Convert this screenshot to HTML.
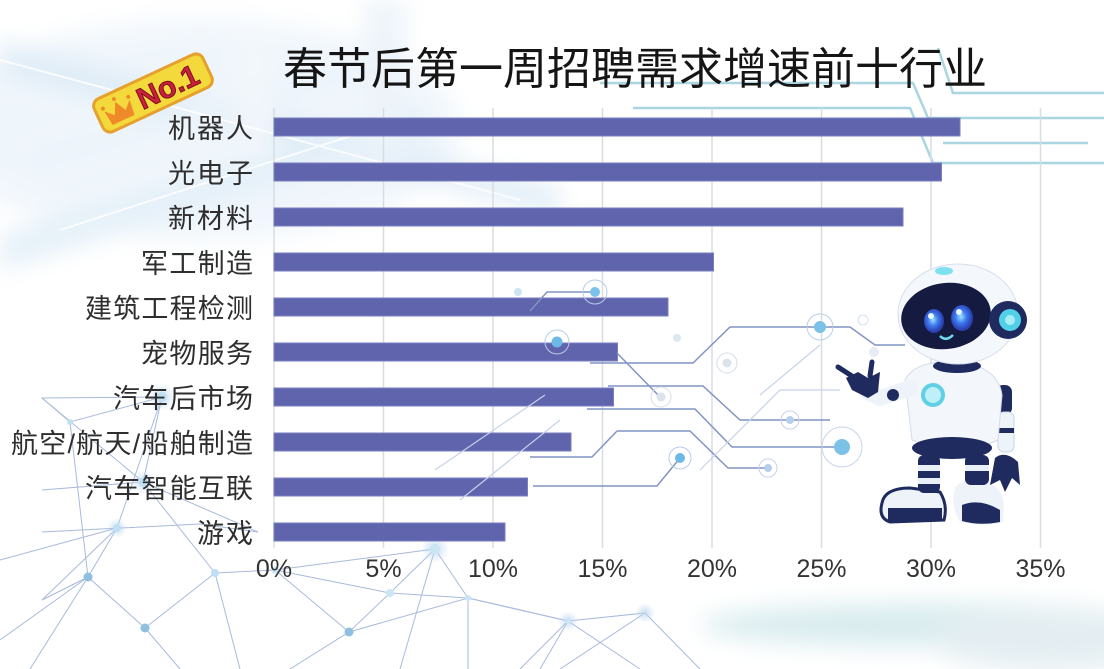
<!DOCTYPE html>
<html><head><meta charset="utf-8"><style>
html,body{margin:0;padding:0;background:#fff;}
svg{display:block;}
.lbl{font-family:"Liberation Sans","Noto Sans CJK SC",sans-serif;font-size:27px;fill:#2e2e2e;}
.ax{font-family:"Liberation Sans",sans-serif;font-size:25px;fill:#333;text-anchor:middle;}
</style></head><body>
<svg width="1104" height="669" viewBox="0 0 1104 669" xmlns="http://www.w3.org/2000/svg">
<defs>
<filter id="b12" x="-50%" y="-50%" width="200%" height="200%"><feGaussianBlur stdDeviation="12"/></filter>
<filter id="b5" x="-50%" y="-50%" width="200%" height="200%"><feGaussianBlur stdDeviation="5"/></filter>
<filter id="b2" x="-50%" y="-50%" width="200%" height="200%"><feGaussianBlur stdDeviation="2"/></filter>
<radialGradient id="glow"><stop offset="0" stop-color="#bcd6ee" stop-opacity=".8"/><stop offset="1" stop-color="#bcd6ee" stop-opacity="0"/></radialGradient>
<radialGradient id="eye" cx=".45" cy=".45"><stop offset="0" stop-color="#9fe2ff"/><stop offset=".5" stop-color="#3d7af0"/><stop offset="1" stop-color="#2a3fb0"/></radialGradient>
</defs>
<rect width="1104" height="669" fill="#fff"/>
<!-- upper-left haze -->
<g filter="url(#b12)" opacity=".65">
<ellipse cx="200" cy="130" rx="260" ry="110" fill="#e8f2fa"/>
<polygon points="0,40 560,190 560,215 0,75" fill="#cfe3f3"/>
<polygon points="0,235 420,110 430,135 0,270" fill="#d6e8f5"/>
<polygon points="20,150 350,60 360,80 30,175" fill="#e2eef8"/>
<rect x="365" y="0" width="40" height="160" fill="#e3eef7"/>
<rect x="240" y="40" width="30" height="110" fill="#edf3f9"/>
</g>
<g stroke="#fff" stroke-width="2" opacity=".8">
<line x1="0" y1="60" x2="520" y2="200"/>
<line x1="60" y1="230" x2="400" y2="120"/>
</g>
<!-- bottom-right haze -->
<g filter="url(#b12)">
<ellipse cx="930" cy="625" rx="230" ry="22" fill="#d9ecef"/>
<ellipse cx="1050" cy="640" rx="120" ry="30" fill="#e4eef2"/>
</g>
<!-- upper right cyan lines -->
<g stroke="#a9d6e0" stroke-width="2.5" fill="none">
<path d="M600 83 H913 L928 118 H1104"/>
<path d="M633 108 H910 L933 163 H1104"/>
<path d="M938 48 L953 93 H1104"/>
<path d="M943 143 H1088"/>
</g>
<!-- gridlines -->
<g stroke="#d8dde4" stroke-width="1.5">
<line x1="274" y1="108" x2="274" y2="548"/>
<line x1="383.5" y1="108" x2="383.5" y2="548"/>
<line x1="493" y1="108" x2="493" y2="548"/>
<line x1="602.5" y1="108" x2="602.5" y2="548"/>
<line x1="712" y1="108" x2="712" y2="548"/>
<line x1="821.5" y1="108" x2="821.5" y2="548"/>
<line x1="931" y1="108" x2="931" y2="548"/>
<line x1="1040.5" y1="108" x2="1040.5" y2="548"/>
</g>
<!-- lower-left network -->
<g stroke="#a8badb" stroke-width="1" fill="none">
<path d="M42 398 L162 397 L70 422 Z"/>
<path d="M42 398 L143 482"/>
<path d="M162 397 L143 482 L42 490"/>
<path d="M162 397 L117 528"/>
<path d="M70 422 L88 577"/>
<path d="M143 482 L215 573"/>
<path d="M143 482 L258 532"/>
<path d="M42 532 L200 524 L258 532"/>
<path d="M117 528 L42 600 L88 577"/>
<path d="M117 528 L88 577 L145 628 L215 573"/>
<path d="M0 640 L88 577"/>
<path d="M0 560 L117 528"/>
<path d="M145 628 L180 669"/>
<path d="M215 573 L275 570 L435 549"/>
<path d="M275 570 L390 593 L468 598 L568 621 L645 613"/>
<path d="M275 570 L349 632 L390 593 L435 549 L468 598"/>
<path d="M349 632 L468 598 L468 669"/>
<path d="M349 632 L290 669"/>
<path d="M435 549 L400 669"/>
<path d="M568 621 L540 669 M568 621 L640 669 M645 613 L700 669 M645 613 L560 669"/>
<path d="M468 598 L568 621 L520 669"/>
<path d="M215 573 L240 669 M88 577 L30 669"/>
</g>
<g>
<circle cx="162" cy="397" r="14" fill="url(#glow)"/><circle cx="162" cy="397" r="5" fill="#bfe0f2"/>
<circle cx="143" cy="482" r="12" fill="url(#glow)"/><circle cx="143" cy="482" r="4.5" fill="#bfe0f2"/>
<circle cx="117" cy="528" r="10" fill="url(#glow)"/><circle cx="117" cy="528" r="4" fill="#bfe0f2"/>
<circle cx="88" cy="577" r="4.5" fill="#8fc0e0"/>
<circle cx="145" cy="628" r="4.5" fill="#8fc0e0"/>
<circle cx="215" cy="573" r="4" fill="#bfe0f2"/>
<circle cx="70" cy="422" r="3" fill="#bfe0f2"/>
<circle cx="435" cy="549" r="14" fill="url(#glow)"/><circle cx="435" cy="549" r="5" fill="#c8e6f4"/>
<circle cx="390" cy="593" r="4" fill="#c8e6f4"/>
<circle cx="349" cy="632" r="4.5" fill="#8fc0e0"/>
<circle cx="468" cy="598" r="3" fill="#c8e6f4"/>
<circle cx="568" cy="621" r="10" fill="url(#glow)"/><circle cx="568" cy="621" r="3" fill="#c8e6f4"/>
<circle cx="645" cy="613" r="10" fill="url(#glow)"/>
<circle cx="275" cy="570" r="3.5" fill="#c8e6f4"/>
</g>
<!-- bars -->
<g fill="#6064ad" stroke="#7a7ec0" stroke-width="1">
<rect x="274" y="118" width="686" height="18"/>
<rect x="274" y="163" width="667.5" height="18"/>
<rect x="274" y="208" width="629" height="18"/>
<rect x="274" y="253" width="439.5" height="18"/>
<rect x="274" y="298" width="394" height="18"/>
<rect x="274" y="343" width="343.5" height="18"/>
<rect x="274" y="388" width="339.5" height="18"/>
<rect x="274" y="433" width="297" height="18"/>
<rect x="274" y="478" width="253.5" height="18"/>
<rect x="274" y="523" width="231" height="18"/>
</g>
<!-- circuit lines -->
<g stroke="#8194c4" stroke-width="1.5" fill="none">
<path d="M530 311 L547 292 H595"/>
<path d="M590 363 H693 L730 327 H820"/>
<path d="M617 353 L660 397"/>
<path d="M608 386 H703 L740 420 H790"/>
<path d="M587 409 H695 L732 447 H842"/>
<path d="M617 431 H690 L728 468 H768"/>
<path d="M530 457 H592 L617 431"/>
<path d="M533 486 H657 L680 458"/>
<path d="M820 327 H850 L875 345 H905"/>
<path d="M790 420 H830"/>
</g>
<g stroke="#c6d3e8" stroke-width="1.2" fill="none">
<path d="M435 470 L545 395"/>
<path d="M460 500 L560 420"/>
<path d="M700 470 L780 390 H840"/>
<path d="M760 395 L820 345"/>
</g>
<g>
<circle cx="595" cy="292" r="12" fill="none" stroke="#b8cde6" stroke-width="1"/><circle cx="595" cy="292" r="5" fill="#7cc2e8"/>
<circle cx="518" cy="292" r="4" fill="#cfe4f2"/>
<circle cx="557" cy="342" r="12" fill="none" stroke="#b8cde6" stroke-width="1"/><circle cx="557" cy="342" r="5.5" fill="#6cb8e6"/>
<circle cx="727" cy="363" r="10" fill="none" stroke="#d5dde8" stroke-width="1"/><circle cx="727" cy="363" r="4.5" fill="#dde3ea"/>
<circle cx="677" cy="338" r="4" fill="#dbe8f3"/>
<circle cx="661" cy="397" r="10" fill="none" stroke="#d5dde8" stroke-width="1"/><circle cx="661" cy="397" r="4.5" fill="#dde3ea"/>
<circle cx="680" cy="458" r="11" fill="none" stroke="#b8cde6" stroke-width="1"/><circle cx="680" cy="458" r="5" fill="#6cb8e6"/>
<circle cx="820" cy="327" r="13" fill="none" stroke="#b8cde6" stroke-width="1"/><circle cx="820" cy="327" r="6" fill="#7cc2e8"/>
<circle cx="790" cy="420" r="9" fill="none" stroke="#c6d3e8" stroke-width="1"/><circle cx="790" cy="420" r="4" fill="#b6cfe8"/>
<circle cx="842" cy="447" r="20" fill="none" stroke="#c6d6ea" stroke-width="1"/><circle cx="842" cy="447" r="8" fill="#7cc2e8"/>
<circle cx="768" cy="468" r="9" fill="none" stroke="#c6d3e8" stroke-width="1"/><circle cx="768" cy="468" r="4" fill="#b6cfe8"/>
<circle cx="863" cy="320" r="5" fill="none" stroke="#d5e1ee" stroke-width="1"/>
<circle cx="874" cy="352" r="5" fill="#e6edf4"/>
</g>
<!-- robot -->
<g>
<path d="M882 503 Q885 488 910 488 L940 492 Q948 505 944 520 L890 522 Q878 518 882 503 Z" fill="#eef3fa" stroke="#1f2a5e" stroke-width="3"/>
<path d="M888 508 L942 508 L942 521 L888 521 Z" fill="#1f2a5e"/>
<path d="M955 488 Q962 478 985 480 Q1003 488 1004 505 L1003 522 Q985 527 960 522 Q950 505 955 488 Z" fill="#eef3fa"/>
<path d="M962 505 Q980 498 1000 510 L1000 522 Q980 526 962 521 Z" fill="#1f2a5e"/>
<rect x="918" y="455" width="22" height="38" rx="6" fill="#1f2a5e"/>
<rect x="918" y="465" width="22" height="6" fill="#e9eff7"/>
<rect x="918" y="478" width="22" height="6" fill="#e9eff7"/>
<rect x="965" y="455" width="24" height="30" rx="6" fill="#1f2a5e"/>
<rect x="965" y="465" width="24" height="6" fill="#e9eff7"/>
<rect x="996" y="385" width="16" height="30" rx="7" fill="#1f2a5e"/>
<rect x="998" y="412" width="16" height="40" rx="6" fill="#eef3fa" stroke="#c8d4e6" stroke-width="1"/>
<rect x="998" y="428" width="16" height="5" fill="#1f2a5e"/>
<path d="M995 458 Q1005 450 1018 462 L1020 485 L1012 478 L1005 492 L1000 480 L990 485 Z" fill="#1f2a5e"/>
<path d="M905 380 Q915 360 955 362 Q998 365 1002 395 L998 440 Q960 458 912 440 Z" fill="#f3f6fb" stroke="#d3dceb" stroke-width="1"/>
<ellipse cx="952" cy="448" rx="40" ry="11" fill="#1f2a5e"/>
<circle cx="933" cy="395" r="10" fill="#bff0f8" stroke="#5fd0e6" stroke-width="4"/>
<path d="M910 388 L880 398 L868 392" stroke="#eef3fa" stroke-width="16" fill="none" stroke-linecap="round"/>
<path d="M858 372 L868 378 L880 372 L878 392 L868 398 L852 390 L846 378 Z" fill="#1f2a5e"/>
<path d="M855 378 L838 367" stroke="#1f2a5e" stroke-width="5" stroke-linecap="round"/>
<path d="M870 376 L872 362" stroke="#1f2a5e" stroke-width="5" stroke-linecap="round"/>
<circle cx="893" cy="395" r="6" fill="#1f2a5e"/>
<ellipse cx="957" cy="366" rx="24" ry="7" fill="#1f2a5e"/>
<ellipse cx="958" cy="314" rx="60" ry="50" fill="#f4f7fc" stroke="#d6deec" stroke-width="1"/>
<ellipse cx="946" cy="316" rx="45" ry="33" transform="rotate(-8 946 316)" fill="#141a40"/>
<ellipse cx="934" cy="321" rx="10" ry="12" fill="url(#eye)"/>
<ellipse cx="962" cy="318" rx="11" ry="13" fill="url(#eye)"/>
<circle cx="931" cy="316" r="3" fill="#e8f8ff"/>
<circle cx="959" cy="312" r="3" fill="#e8f8ff"/>
<path d="M940 336 Q946 342 953 335" stroke="#6fdcf0" stroke-width="2.5" fill="none"/>
<ellipse cx="944" cy="271" rx="9" ry="4" fill="#7fe0f0"/>
<circle cx="1008" cy="320" r="19" fill="#1f2a5e"/>
<circle cx="1010" cy="320" r="11" fill="#52d0e8"/>
<circle cx="1010" cy="320" r="5" fill="#a8eef8"/>
</g>
<!-- badge -->
<g transform="translate(153,93) rotate(-25)">
<rect x="-60" y="-18" width="120" height="36" rx="8" fill="#f4d93c" stroke="#e6a02e" stroke-width="3"/>
<path d="M-50 12 L-52 -4 L-44 4 L-38 -8 L-32 4 L-24 -4 L-26 12 Z" fill="#ef8a2a"/>
<circle cx="-52" cy="-7" r="2" fill="#ef8a2a"/><circle cx="-38" cy="-11" r="2" fill="#ef8a2a"/><circle cx="-24" cy="-7" r="2" fill="#ef8a2a"/>
<text x="16" y="11" text-anchor="middle" font-family="Liberation Sans, sans-serif" font-weight="bold" font-size="30" fill="#cc1f3b" stroke="#7a1020" stroke-width="1">No.1</text>
</g>
<!-- title -->
<text x="283" y="84" textLength="704" lengthAdjust="spacingAndGlyphs" font-family="Liberation Sans, Noto Sans CJK SC, sans-serif" font-size="44" fill="#151515">春节后第一周招聘需求增速前十行业</text>
<!-- labels -->
<text class="lbl" x="168" y="138" textLength="85">机器人</text>
<text class="lbl" x="168" y="183" textLength="85">光电子</text>
<text class="lbl" x="168" y="228" textLength="85">新材料</text>
<text class="lbl" x="141" y="273" textLength="112">军工制造</text>
<text class="lbl" x="85" y="318" textLength="168">建筑工程检测</text>
<text class="lbl" x="141" y="363" textLength="112">宠物服务</text>
<text class="lbl" x="113" y="408" textLength="140">汽车后市场</text>
<text class="lbl" x="11" y="453" textLength="242">航空/航天/船舶制造</text>
<text class="lbl" x="85" y="498" textLength="168">汽车智能互联</text>
<text class="lbl" x="197" y="543" textLength="56">游戏</text>
<!-- axis labels -->
<text class="ax" x="274" y="577">0%</text>
<text class="ax" x="383.5" y="577">5%</text>
<text class="ax" x="493" y="577">10%</text>
<text class="ax" x="602.5" y="577">15%</text>
<text class="ax" x="712" y="577">20%</text>
<text class="ax" x="821.5" y="577">25%</text>
<text class="ax" x="931" y="577">30%</text>
<text class="ax" x="1040.5" y="577">35%</text>
</svg>
</body></html>
